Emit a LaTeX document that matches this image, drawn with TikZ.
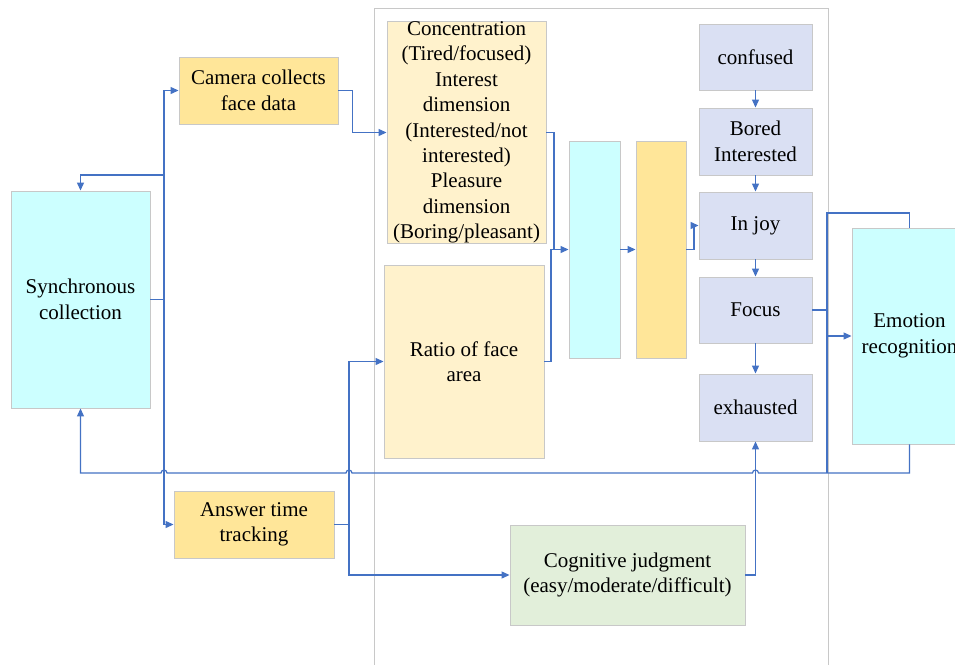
\documentclass[tikz,border=0pt]{standalone}
\usepackage{fontspec}
\setmainfont{Liberation Serif}
\usetikzlibrary{arrows.meta}
\definecolor{cyanf}{HTML}{CCFFFF}
\definecolor{orf}{HTML}{FFE699}
\definecolor{ylf}{HTML}{FFF2CC}
\definecolor{blf}{HTML}{DAE0F3}
\definecolor{grf}{HTML}{E2EFDA}
\definecolor{bord}{HTML}{C8C8C8}
\definecolor{lnk}{HTML}{4472C4}
\tikzset{
  box/.style={draw=bord, line width=0.9pt, align=center, inner sep=0pt,
    font=\fontsize{21}{25.4}\selectfont},
  conn/.style={draw=lnk, line width=1.2pt, -{Triangle[length=8pt,width=7pt]}},
  plain/.style={draw=lnk, line width=1.2pt},
}
\begin{document}
\begin{tikzpicture}[x=1pt,y=-1pt]
\clip (0,0) rectangle (955,664);
\fill[white] (0,0) rectangle (955,664);
% frame
\draw[bord, line width=0.9pt] (374,670) -- (374,8) -- (828,8) -- (828,670);
% nodes
\node[box, fill=cyanf, minimum width=139, minimum height=217] (sync) at (80.5,299.5) {Synchronous\\collection};
\node[box, fill=orf, minimum width=159, minimum height=67] (cam) at (258.5,90.5) {Camera collects\\face data};
\node[box, fill=orf, minimum width=160, minimum height=67] (ans) at (254,524.5) {Answer time\\tracking};
\node[box, fill=ylf, minimum width=159, minimum height=217] (conc) at (466.5,132.5) {Concentration\\(Tired/focused)\\Interest\\dimension\\(Interested/not\\interested)\\Pleasure\\dimension\\(Boring/pleasant)};
\node[box, fill=ylf, minimum width=160, minimum height=193] (ratio) at (464,361.5) {Ratio of face\\area};
\node[box, fill=cyanf, minimum width=51, minimum height=217] (cyanb) at (594.5,249.5) {};
\node[box, fill=orf, minimum width=50, minimum height=217] (orb) at (661,249.5) {};
\node[box, fill=blf, minimum width=113, minimum height=66] (conf) at (755.5,57) {confused};
\node[box, fill=blf, minimum width=113, minimum height=67] (bored) at (755.5,141.5) {Bored\\Interested};
\node[box, fill=blf, minimum width=113, minimum height=67] (joy) at (755.5,225.5) {In joy};
\node[box, fill=blf, minimum width=113, minimum height=66] (focus) at (755.5,310) {Focus};
\node[box, fill=blf, minimum width=113, minimum height=67] (exh) at (755.5,407.5) {exhausted};
\node[box, fill=cyanf, minimum width=115, minimum height=216] (emo) at (909.5,336) {Emotion\\recognition};
\node[box, fill=grf, minimum width=235, minimum height=100] (cog) at (627.5,575) {Cognitive judgment\\(easy/moderate/difficult)};
% left trunk
\coordinate (tj) at (164,299.5);
\coordinate (tt) at (164,175);
\draw[plain] (sync.east) -- (tj);
\draw[conn] (tj) |- (cam.west);
\draw[conn] (tj) |- (ans.west);
\draw[conn] (tt) -| (sync.north);
% camera to concentration
\draw[conn] (cam.east) -- (352.5,90.5) |- (conc.west);
% answer time
\coordinate (aj) at (349,524.5);
\draw[plain] (ans.east) -- (aj);
\draw[conn] (aj) |- (ratio.west);
\draw[conn] (aj) |- (cog.west);
% into cyan block
\draw[plain] (ratio.east) -- (551,361.5) |- (554,249.5);
\draw[conn] (conc.east) -- (554,132.5) |- (cyanb.west);
\draw[conn] (cyanb.east) -- (orb.west);
\draw[conn] (orb.east) -- (694,249.5) |- (joy.west);
% chain
\draw[conn] (conf.south) -- (bored.north);
\draw[conn] (bored.south) -- (joy.north);
\draw[conn] (joy.south) -- (focus.north);
\draw[conn] (focus.south) -- (exh.north);
\draw[conn] (cog.east) -- (755.5,575) -- (exh.south);
% emotion recognition
\coordinate (ej) at (827,336);
\draw[plain] (focus.east) -- (827,310);
\draw[plain] (827,473) -- (827,213) -- (909.5,213) -- (emo.north);
\draw[conn] (ej) -- (emo.west);
\draw[conn] (emo.south) -- (909.5,473) -- (758.5,473)
  arc[start angle=0, end angle=180, radius=3pt] -- (352,473)
  arc[start angle=0, end angle=180, radius=3pt] -- (167,473)
  arc[start angle=0, end angle=180, radius=3pt] -| (sync.south);
\end{tikzpicture}
\end{document}
